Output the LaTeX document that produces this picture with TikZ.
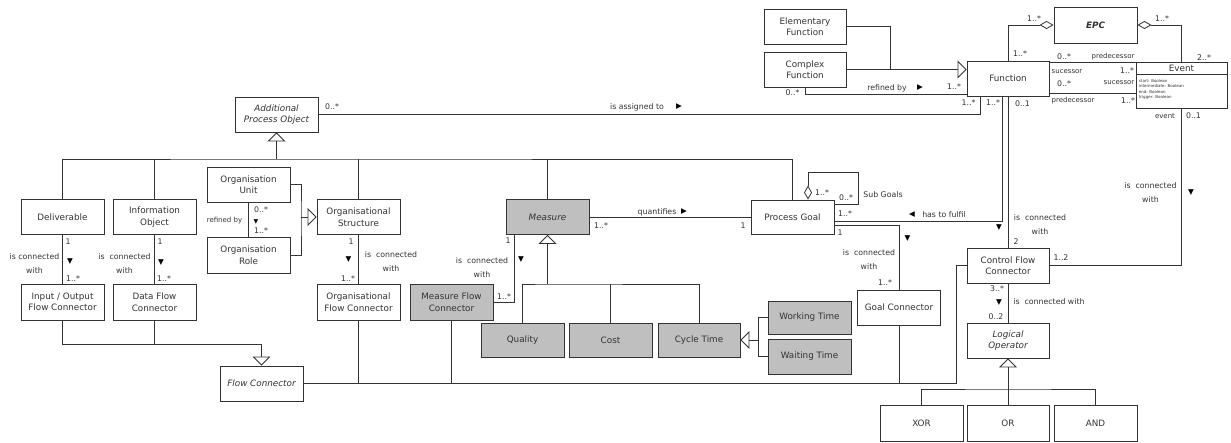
\documentclass[tikz,border=0pt]{standalone}
\usepackage{fontspec}
\setmainfont{DejaVu Sans}
\usetikzlibrary{arrows.meta}

\newcommand{\clsfont}{\fontsize{8.8}{11.5}\selectfont}
\newcommand{\lblfont}{\fontsize{7.8}{14}\selectfont}
\newcommand{\rolefont}{\fontsize{7}{8}\selectfont}
\newcommand{\markfont}{\fontsize{7.5}{7.5}\selectfont}

\tikzset{
  cls/.style={draw=black!80, line width=0.9pt, fill=white, minimum width=83pt,
    minimum height=35pt, inner sep=1pt, align=center, font=\clsfont},
  graycls/.style={cls, fill=black!25},
  lbl/.style={inner sep=0pt, align=center, font=\lblfont},
  role/.style={inner sep=0pt, font=\rolefont},
  arrowmark/.style={inner sep=0pt, font=\markfont, text=black},
  gen/.style={-{Triangle[open, length=9pt, width=18pt]}},
  agg/.style={{Diamond[open, length=14pt, width=8pt]}-},
}

\begin{document}
\begin{tikzpicture}[x=1pt, y=-1pt, line width=0.8pt, color=black!80]
\path[use as bounding box, fill=white] (0,0) rectangle (1231,442);

% classes
\node[cls, font=\clsfont\itshape] (apo) at (276.5,114.5) {Additional\\Process Object};
\node[cls] (deliv) at (62.5,217) {Deliverable};
\node[cls] (infoobj) at (154.5,217) {Information\\Object};
\node[cls] (orgunit) at (248.5,184.5) {Organisation\\Unit};
\node[cls, minimum height=36pt] (orgrole) at (248.5,255) {Organisation\\Role};
\node[cls] (orgstruct) at (358.5,217) {Organisational\\Structure};
\node[cls, minimum height=36pt] (ioflow) at (62.5,302) {Input / Output\\Flow Connector};
\node[cls, minimum height=36pt] (dataflow) at (154.5,302) {Data Flow\\Connector};
\node[cls, minimum height=36pt] (orgflow) at (358.5,302) {Organisational\\Flow Connector};
\node[cls, font=\clsfont\itshape] (flowconn) at (261.5,383.5) {Flow Connector};
\node[graycls, font=\clsfont\itshape] (measure) at (547.5,217) {Measure};
\node[graycls, minimum height=36pt] (measflow) at (451.5,302) {Measure Flow\\Connector};
\node[graycls, minimum height=34pt] (quality) at (522.5,340) {Quality};
\node[graycls, minimum height=34pt] (cost) at (610.5,340) {Cost};
\node[graycls, minimum height=34pt, minimum width=82pt] (cycletime) at (699,340) {Cycle Time};
\node[graycls, minimum height=33pt] (worktime) at (809.5,317.5) {Working Time};
\node[graycls] (waittime) at (809.5,356.5) {Waiting Time};
\node[cls, minimum height=34pt] (procgoal) at (792.5,217) {Process Goal};
\node[cls] (goalconn) at (899,307.5) {Goal Connector};
\node[cls, minimum width=82pt] (elemfunc) at (805,26.5) {Elementary\\Function};
\node[cls, minimum width=82pt] (complexfunc) at (805,69.5) {Complex\\Function};
\node[cls, minimum width=82pt] (function) at (1008,78.5) {Function};
\node[cls, minimum height=36pt, font=\clsfont\bfseries\itshape] (epc) at (1095.5,25) {EPC};
\node[cls, minimum width=82pt] (cfc) at (1008,265.5) {Control Flow\\Connector};
\node[cls, minimum width=82pt, font=\clsfont\itshape] (logop) at (1008,340.5) {Logical\\Operator};
\node[cls, minimum height=36pt] (opxor) at (921.5,423) {XOR};
\node[cls, minimum width=82pt, minimum height=36pt] (opor) at (1008,423) {OR};
\node[cls, minimum height=36pt] (opand) at (1095.5,423) {AND};

% event class with attributes
\node[cls, minimum width=91pt, minimum height=46pt] (event) at (1181.5,85) {};
\node[inner sep=0pt, font=\fontsize{8.8}{9}\selectfont] (eventname) at (1181.5,68) {Event};
\coordinate (eventsep) at (1136,74.5);
\draw[line width=0.6pt] (eventsep) -- (eventsep -| event.east);
\node[inner sep=0pt, anchor=north west, align=left, font=\fontsize{4}{5.4}\selectfont] (eventattr) at (1138.5,79) {start: Boolean\\intermediate: Boolean\\end: Boolean\\trigger: Boolean};

% generalisation of additional process objects
\coordinate (apobar) at (276.5,159);
\draw[gen] (apobar) -- (apo.south);
\draw (deliv.north) |- (apobar) -| (procgoal.north);
\draw (infoobj.north) -- (infoobj.north |- apobar);
\draw (orgstruct.north) -- (orgstruct.north |- apobar);
\draw (measure.north) -- (measure.north |- apobar);

% is assigned to
\coordinate (assignbend) at (980,114.5);
\draw (apo.east) -- (assignbend) -- (function.south -| assignbend);
\node[lbl] (assignm1) at (332,107) {0..*};
\node[lbl] (assigntxt) at (637,107) {is assigned to};
\node[arrowmark] (assigndir) at (679,107) {▶};
\node[lbl] (assignm2) at (968.5,103) {1..*};

% deliverable / information object
\draw (deliv.south) -- (ioflow.north);
\node[lbl] (delivm1) at (68,242) {1};
\node[arrowmark] (delivdir) at (70,262) {▼};
\node[lbl] (delivm2) at (73,279) {1..*};
\node[lbl] (delivtxt) at (34.5,264) {is connected\\with};
\draw (infoobj.south) -- (dataflow.north);
\node[lbl] (infom1) at (160,242) {1};
\node[arrowmark] (infodir) at (161,263) {▼};
\node[lbl] (infom2) at (164,279) {1..*};
\node[lbl] (infotxt) at (124.5,264) {is~~connected\\with};

% organisation
\coordinate (orgbar) at (301,217);
\draw (orgunit.east) -| (orgbar) |- (orgrole.east);
\draw[gen] (orgbar) -- (orgstruct.west);
\draw (orgunit.south) -- (orgrole.north);
\node[lbl] (orgm1) at (261,210) {0..*};
\node[arrowmark, font=\fontsize{6}{6}\selectfont] (orgdir) at (256,222) {▼};
\node[lbl] (orgm2) at (261,231) {1..*};
\node[role] (orgtxt) at (224.5,221) {refined by};
\draw (orgstruct.south) -- (orgflow.north);
\node[lbl] (structm1) at (351,242) {1};
\node[arrowmark] (structdir) at (348.5,260) {▼};
\node[lbl] (structm2) at (348,279) {1..*};
\node[lbl] (structtxt) at (391,262) {is~~connected\\with};

% flow connectors
\coordinate (flowbar) at (261.5,344);
\draw (ioflow.south) |- (flowbar);
\draw (dataflow.south) -- (dataflow.south |- flowbar);
\draw[gen] (flowbar) -- (flowconn.north);
\coordinate (flowbend) at (956,383.5);
\draw (flowconn.east) -- (flowbend) |- (cfc.west);
\draw (orgflow.south) -- (orgflow.south |- flowbend);
\draw (measflow.south) -- (measflow.south |- flowbend);
\draw (goalconn.south) -- (goalconn.south |- flowbend);

% measures
\coordinate (measbar) at (547.5,284);
\draw[gen] (measbar) -- (measure.south);
\draw (quality.north) |- (measbar) -| (cycletime.north);
\draw (cost.north) -- (cost.north |- measbar);
\coordinate (cyclebar) at (758,340);
\draw (worktime.west) -| (cyclebar) |- (waittime.west);
\draw[gen] (cyclebar) -- (cycletime.east);
\coordinate (measlink) at (514,302);
\draw (measure.south -| measlink) -- (measlink) -- (measflow.east);
\node[lbl] (measm1) at (508,241) {1};
\node[lbl] (meastxt) at (482,268) {is~~connected\\with};
\node[arrowmark] (measdir) at (521,260) {▼};
\node[lbl] (measm2) at (504,297) {1..*};
\draw (measure.east) -- (procgoal.west);
\node[lbl] (quanttxt) at (657,212) {quantifies};
\node[arrowmark] (quantdir) at (684,212) {▶};
\node[lbl] (quantm1) at (601,226) {1..*};
\node[lbl] (quantm2) at (743,226) {1};

% process goals
\coordinate (pgloop) at (808,172);
\coordinate (pgloopend) at (858,204);
\draw[agg] (procgoal.north -| pgloop) -- (pgloop) -| (pgloopend) -- (procgoal.east |- pgloopend);
\node[lbl] (subm1) at (822,193) {1..*};
\node[lbl] (subm2) at (846,198) {0..*};
\node[lbl, anchor=west] (subtxt) at (863,195) {Sub Goals};
\coordinate (fulfilbend) at (1002,221);
\draw (procgoal.east |- fulfilbend) -- (fulfilbend) -- (function.south -| fulfilbend);
\node[lbl] (fulfilm1) at (845,214) {1..*};
\node[arrowmark] (fulfildir) at (912,215) {◀};
\node[lbl] (fulfiltxt) at (944,215) {has to fulfil};
\node[lbl] (fulfilm2) at (993,103) {1..*};
\coordinate (goalbend) at (899,225);
\draw (procgoal.east |- goalbend) -- (goalbend) -- (goalconn.north);
\node[lbl] (goalm1) at (840,233) {1};
\node[arrowmark] (goaldir) at (907.5,238.5) {▼};
\node[lbl] (goaltxt) at (869,259.5) {is~~connected\\with};
\node[lbl] (goalm2) at (885,283) {1..*};

% functions
\coordinate (funcbar) at (890,69.5);
\draw (elemfunc.east) -| (funcbar);
\draw[gen] (complexfunc.east) -- (function.west |- complexfunc.east);
\coordinate (refinebend) at (805,94);
\draw (complexfunc.south) -- (refinebend) -- (function.west |- refinebend);
\node[lbl] (refm1) at (792.5,93) {0..*};
\node[lbl] (reftxt) at (887,88) {refined by};
\node[arrowmark] (refdir) at (920,88) {▶};
\node[lbl] (refm2) at (954,87) {1..*};

% EPC
\draw[agg] (epc.west) -| (function.north);
\draw[agg] (epc.east) -| (event.north);
\node[lbl] (epcm1) at (1034,19) {1..*};
\node[lbl] (epcm2) at (1020,54) {1..*};
\node[lbl] (epcm3) at (1162,19) {1..*};
\node[lbl] (epcm4) at (1204,58) {2..*};

% function and event
\coordinate (fe1) at ([yshift=-2pt]function.north east);
\coordinate (fe2) at ([yshift=3pt]function.south east);
\draw (fe1) -- (fe1 -| event.west);
\draw (fe2) -- (fe2 -| event.west);
\node[lbl] (fem1) at (1064,57) {0..*};
\node[role] (ferole1) at (1113,57) {predecessor};
\node[role] (ferole2) at (1067,72) {sucessor};
\node[lbl] (fem2) at (1127,71) {1..*};
\node[lbl] (fem3) at (1064,84) {0..*};
\node[role] (ferole3) at (1119,83) {sucessor};
\node[role] (ferole4) at (1073,101) {predecessor};
\node[lbl] (fem4) at (1128,101) {1..*};

% control flow
\draw (function.south) -- (cfc.north);
\node[lbl] (fcm1) at (1022.5,104) {0..1};
\node[lbl] (fctxt) at (1040,224.5) {is~~connected\\with};
\node[lbl] (fcm2) at (1016,242) {2};
\node[arrowmark] (fcdir) at (999,228) {▼};
\draw (event.south) |- (cfc.east);
\node[role] (ecrole) at (1165,116) {event};
\node[lbl] (ecm1) at (1193.5,116) {0..1};
\node[lbl] (ectxt) at (1150.5,192.5) {is~~connected\\with};
\node[arrowmark] (ecdir) at (1191,193) {▼};
\node[lbl] (ecm2) at (1061,258) {1..2};
\draw (cfc.south) -- (logop.north);
\node[lbl] (clm1) at (997,289) {3..*};
\node[arrowmark] (cldir) at (999,303) {▼};
\node[lbl] (clm2) at (996,317) {0..2};
\node[lbl] (cltxt) at (1049,302) {is~~connected with};

% logical operators
\coordinate (logbar) at (1008,389);
\draw[gen] (logbar) -- (logop.south);
\draw (opxor.north) |- (logbar) -| (opand.north);
\draw (opor.north) -- (logbar);
\end{tikzpicture}
\end{document}
